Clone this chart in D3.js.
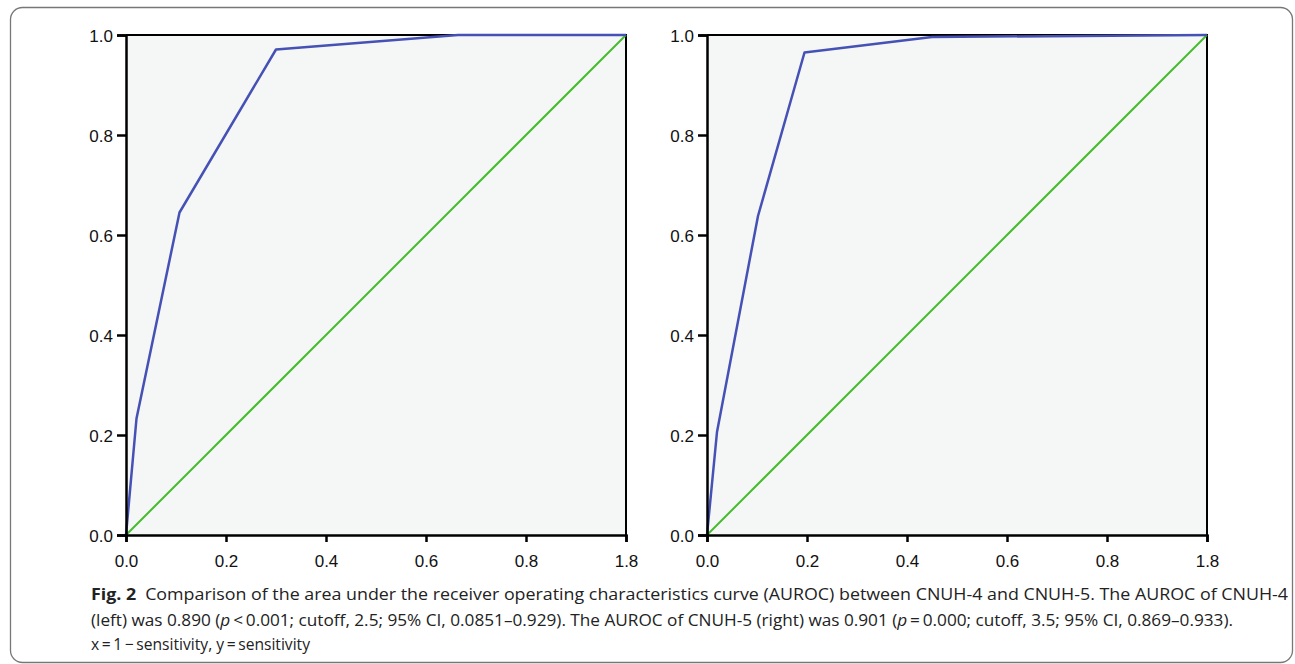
<!DOCTYPE html>
<html>
<head>
<meta charset="utf-8">
<script src="https://cdn.jsdelivr.net/npm/d3@7"></script>
<style>
  html, body { margin: 0; padding: 0; background: #fff; }
  svg { display: block; }
  .tick text { font-family: "Liberation Sans", Arial, sans-serif; font-size: 17px; fill: #111; }
  .caption { font-family: "Open Sans", "Noto Sans", sans-serif; font-size: 16px; fill: #222; }
</style>
</head>
<body>
<svg id="chart"></svg>
<script>
const W = 1295
const H = 664

// tick labels (last x label really says 1.8)
const xTickValues = [0, 0.2, 0.4, 0.6, 0.8, 1.0]
const xTickLabels = ['0.0', '0.2', '0.4', '0.6', '0.8', '1.8']
const yTickValues = [0, 0.2, 0.4, 0.6, 0.8, 1.0]
const yTickLabels = ['0.0', '0.2', '0.4', '0.6', '0.8', '1.0']

// CNUH-4 (left)
const leftFpr = [0, 0.021, 0.107, 0.300, 0.664, 1.0]
const leftTpr = [0, 0.233, 0.645, 0.971, 1.0, 1.0]

// CNUH-5 (right)
const rightFpr = [0, 0.020, 0.102, 0.195, 0.450, 1.0]
const rightTpr = [0, 0.206, 0.638, 0.965, 0.996, 1.0]

// reference line
const diagFpr = [0, 1]
const diagTpr = [0, 1]

const captionLines = [
	[{ t: 'Fig. 2', b: true }, { t: '\u2002Comparison of the area under the receiver operating characteristics curve (AUROC) between CNUH-4 and CNUH-5. The AUROC of CNUH-4' }],
	[{ t: '(left) was 0.890 (' }, { t: 'p', i: true }, { t: '\u2009<\u20090.001; cutoff, 2.5; 95% CI, 0.0851\u20130.929). The AUROC of CNUH-5 (right) was 0.901 (' }, { t: 'p', i: true }, { t: '\u2009=\u20090.000; cutoff, 3.5; 95% CI, 0.869\u20130.933).' }],
	[{ t: 'x\u2009=\u20091\u2009\u2212\u2009sensitivity, y\u2009=\u2009sensitivity' }],
]

const BLUE = '#4651b5'
const GREEN = '#45bb2d'
const BG = '#f5f7f6'
const SIZE = 500

const svg = d3.select('#chart').attr('width', W).attr('height', H)

svg.append('rect')
	.attr('x', 10.5).attr('y', 7.5)
	.attr('width', 1282).attr('height', 655)
	.attr('rx', 12)
	.attr('fill', '#fff')
	.attr('stroke', '#777')
	.attr('stroke-width', 1.3)

function zip(xs, ys) {
	return xs.map((x, i) => [x, ys[i]])
}

function panel(left, top, fpr, tpr) {
	const x = d3.scaleLinear().domain([0, 1]).range([0, SIZE])
	const y = d3.scaleLinear().domain([0, 1]).range([SIZE, 0])
	const g = svg.append('g').attr('transform', `translate(${left},${top})`)

	g.append('rect')
		.attr('width', SIZE).attr('height', SIZE)
		.attr('fill', BG)

	// top and right frame
	g.append('path')
		.attr('d', `M0,${y(1)}H${x(1)}V${y(0)}`)
		.attr('fill', 'none')
		.attr('stroke', '#000')
		.attr('stroke-width', 2)

	const line = d3.line().x(d => x(d[0])).y(d => y(d[1]))

	g.append('path')
		.datum(zip(diagFpr, diagTpr))
		.attr('d', line)
		.attr('fill', 'none')
		.attr('stroke', GREEN)
		.attr('stroke-width', 2)

	g.append('path')
		.datum(zip(fpr, tpr))
		.attr('d', line)
		.attr('fill', 'none')
		.attr('stroke', BLUE)
		.attr('stroke-width', 2.5)
		.attr('stroke-linejoin', 'round')

	const ax = g.append('g')
		.attr('transform', `translate(0,${SIZE})`)
		.call(d3.axisBottom(x).tickValues(xTickValues).tickFormat((d, i) => xTickLabels[i]).tickSize(7).tickPadding(13))
	const ay = g.append('g')
		.call(d3.axisLeft(y).tickValues(yTickValues).tickFormat((d, i) => yTickLabels[i]).tickSize(9).tickPadding(4))

	;[ax, ay].forEach(a => {
		a.select('.domain').attr('stroke', '#000').attr('stroke-width', 2.5)
		a.selectAll('.tick line').attr('stroke', '#000').attr('stroke-width', 2.5)
	})
	ay.selectAll('.tick text').attr('dy', '0.36em')
}

panel(126, 35, leftFpr, leftTpr)
panel(707, 35, rightFpr, rightTpr)

const caption = svg.append('g').attr('class', 'caption')
const lineY = [600, 626, 650]
const lineW = [1197, 1142, 219]
captionLines.forEach((parts, i) => {
	const t = caption.append('text')
		.attr('x', 91)
		.attr('y', lineY[i])
		.attr('textLength', lineW[i])
		.attr('lengthAdjust', 'spacingAndGlyphs')
	parts.forEach(p => {
		t.append('tspan')
			.attr('font-weight', p.b ? 700 : null)
			.attr('font-style', p.i ? 'italic' : null)
			.text(p.t)
	})
})
</script>
</body>
</html>
